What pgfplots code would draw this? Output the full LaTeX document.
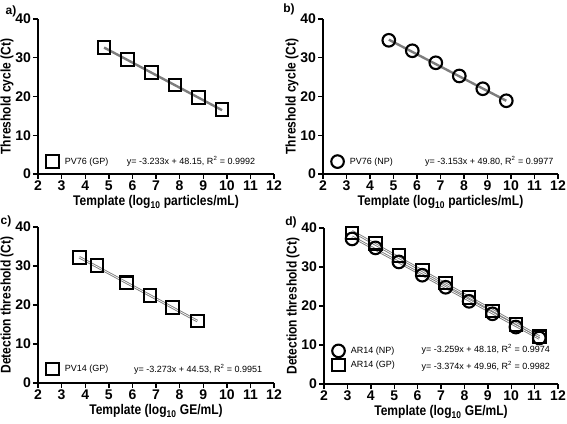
\documentclass[border=0pt]{standalone}
\usepackage{fontspec}
\setmainfont{Liberation Sans}
\newfontfamily\labfont{Liberation Sans}[FakeStretch=0.86]
\usepackage{pgfplots}
\pgfplotsset{compat=1.18}
\definecolor{fitgray}{RGB}{125,125,125}
\pgfplotsset{
 panel/.style={
  scale only axis, width=236pt, height=155pt,
  xmin=2, xmax=12, ymin=0, ymax=40,
  axis lines=left, axis line style={-, line width=1.6pt},
  xtick={2,...,12}, ytick={0,10,...,40},
  tick align=outside, major tick length=5pt,
  tick style={line width=1.4pt, black},
  ticklabel style={font=\fontsize{14}{14}\selectfont\bfseries},
  xticklabel style={yshift=1.5pt},
  yticklabel style={xshift=1.5pt},
  /pgf/number format/assume math mode=true,
  label style={font=\labfont\fontsize{14}{14}\selectfont\bfseries},
  xlabel style={yshift=2pt},
  ylabel style={yshift=-5pt},
  clip=false,
  legend style={draw=none, fill=none, font=\fontsize{9}{10}\selectfont,
    at={(0.03,0.08)}, anchor=west, legend cell align=left,
    row sep=1.5pt, inner sep=1pt},
 },
 mk/.style={only marks, mark options={draw=black, fill=white, line width=2.1pt}, mark size=6.3pt},
 fitA/.style={fitgray, line width=2.4pt, forget plot},
 fitD/.style={draw=fitgray, double=white, double distance=0.7pt, line width=0.9pt, forget plot},
}
\newcommand{\eqfont}{\fontsize{9}{10}\selectfont}
\begin{document}
\begin{tikzpicture}
\path[use as bounding box] (0,0) rectangle (567pt,423pt);
% panel a
\begin{axis}[panel, at={(38pt,249pt)}, anchor=south west,
  ylabel={Threshold cycle (Ct)}, xlabel={Template (log\textsubscript{10} particles/mL)}]
\addplot[fitA] coordinates {(4.8,32.63) (9.8,16.47)};
\addplot[mk, mark=square] coordinates {(4.8,32.7) (5.8,29.6) (6.8,26.2) (7.8,23.0) (8.8,19.7) (9.8,16.6)};
\addlegendentry{\hspace{4pt}PV76 (GP)}
\node[anchor=east, font=\eqfont] at (rel axis cs:0.935,0.08) {y= -3.233x + 48.15, R\textsuperscript{2} = 0.9992};
\end{axis}
% panel b
\begin{axis}[panel, width=235pt, at={(323pt,249pt)}, anchor=south west,
  ylabel={Threshold cycle (Ct)}, xlabel={Template (log\textsubscript{10} particles/mL)}]
\addplot[fitA] coordinates {(4.8,34.67) (9.8,18.90)};
\addplot[mk, mark=o] coordinates {(4.8,34.5) (5.8,31.8) (6.8,28.7) (7.8,25.3) (8.8,22.0) (9.8,18.9)};
\addlegendentry{\hspace{4pt}PV76 (NP)}
\node[anchor=east, font=\eqfont] at (rel axis cs:0.995,0.08) {y= -3.153x + 49.80, R\textsuperscript{2} = 0.9977};
\end{axis}
% panel c
\begin{axis}[panel, height=156pt, at={(38pt,40pt)}, anchor=south west,
  ylabel={Detection threshold (Ct)}, xlabel={Template (log\textsubscript{10} GE/mL)},
  legend style={at={(0.03,0.09)}}]
\addplot[fitD] coordinates {(3.75,32.26) (8.75,15.89)};
\addplot[mk, mark=square] coordinates {(3.75,32.2) (4.5,30.1) (5.75,25.7) (6.75,22.4) (7.7,19.3) (8.75,15.9)};
\addlegendentry{\hspace{4pt}PV14 (GP)}
\node[anchor=east, font=\eqfont] at (rel axis cs:0.965,0.09) {y= -3.273x + 44.53, R\textsuperscript{2} = 0.9951};
\end{axis}
% panel d
\begin{axis}[panel, width=234pt, height=156pt, at={(324pt,39pt)}, anchor=south west,
  ylabel={Detection threshold (Ct)}, xlabel={Template (log\textsubscript{10} GE/mL)},
  legend style={at={(0.03,0.167)}}]
\addplot[fitD] coordinates {(3.2,37.75) (11.2,11.68)};
\addplot[fitD] coordinates {(3.2,39.16) (11.2,12.17)};
\addplot[mk, mark=o] coordinates {(3.2,37.2) (4.2,34.9) (5.2,31.3) (6.2,27.9) (7.2,24.8) (8.2,21.2) (9.2,18.0) (10.2,14.6) (11.2,11.8)};
\addlegendentry{\hspace{4pt}AR14 (NP)}
\addplot[mk, mark=square] coordinates {(3.2,38.7) (4.2,36.1) (5.2,33.0) (6.2,29.2) (7.2,25.9) (8.2,22.2) (9.2,18.7) (10.2,15.3) (11.2,12.1)};
\addlegendentry{\hspace{4pt}AR14 (GP)}
\node[anchor=east, font=\eqfont] at (rel axis cs:0.98,0.22) {y= -3.259x + 48.18, R\textsuperscript{2} = 0.9974};
\node[anchor=east, font=\eqfont] at (rel axis cs:0.98,0.115) {y= -3.374x + 49.96, R\textsuperscript{2} = 0.9982};
\end{axis}
\node[font=\fontsize{12}{12}\selectfont\bfseries] at (11pt,412pt) {a)};
\node[font=\fontsize{12}{12}\selectfont\bfseries] at (289pt,414pt) {b)};
\node[font=\fontsize{12}{12}\selectfont\bfseries] at (6pt,202pt) {c)};
\node[font=\fontsize{12}{12}\selectfont\bfseries] at (291pt,201pt) {d)};
\end{tikzpicture}
\end{document}
